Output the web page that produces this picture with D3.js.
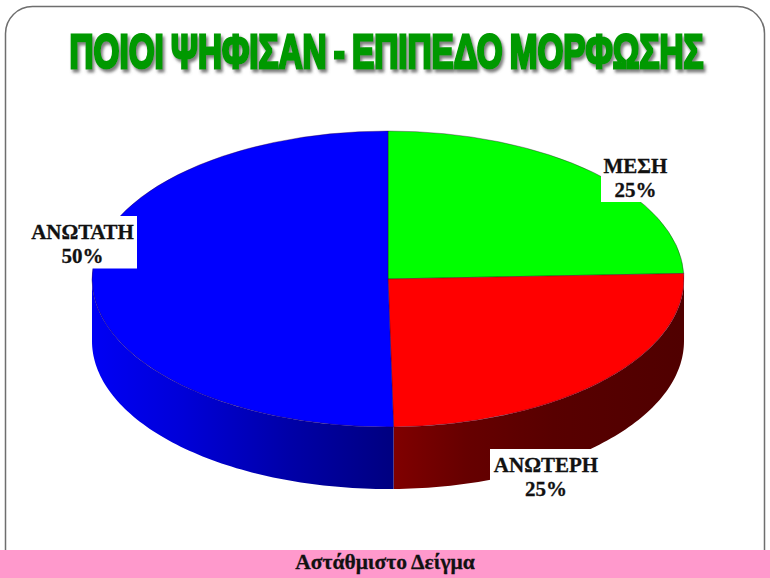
<!DOCTYPE html>
<html><head><meta charset="utf-8">
<style>html,body{margin:0;padding:0;background:#fff}svg{display:block}</style>
<script src="https://cdnjs.cloudflare.com/ajax/libs/d3/7.8.5/d3.min.js"></script>
</head><body><div id="c"></div>
<script>
const titleText = "ΠΟΙΟΙ ΨΗΦΙΣΑΝ - ΕΠΙΠΕΔΟ ΜΟΡΦΩΣΗΣ";
const footerText = "Αστάθμιστο Δείγμα";
const categories = ["ΜΕΣΗ", "ΑΝΩΤΕΡΗ", "ΑΝΩΤΑΤΗ"];
const values = [24.4, 25.3, 50.3];
const percentLabels = ["25%", "25%", "50%"];
const topColors = ["#00ff00", "#ff0000", "#0000ff"];

const W = 770, H = 578;
const cx = 388, cy = 279, rx = 296, ry = 148, depth = 62;

const svg = d3.select("#c").append("svg").attr("width", W).attr("height", H);
const defs = svg.append("defs");

const f = defs.append("filter").attr("id", "ts").attr("x", "-5%").attr("y", "-20%").attr("width", "110%").attr("height", "150%");
f.append("feDropShadow").attr("dx", 2).attr("dy", 3).attr("stdDeviation", 1.6).attr("flood-color", "#666").attr("flood-opacity", 0.85);

const gb = defs.append("linearGradient").attr("id", "sideBlue").attr("gradientUnits", "userSpaceOnUse")
  .attr("x1", cx - rx).attr("x2", cx + 6).attr("y1", 0).attr("y2", 0);
[[0, "#0000f5"], [0.3, "#0000d8"], [0.65, "#0000a8"], [1, "#000080"]].forEach(s => gb.append("stop").attr("offset", s[0]).attr("stop-color", s[1]));
const gr = defs.append("linearGradient").attr("id", "sideRed").attr("gradientUnits", "userSpaceOnUse")
  .attr("x1", cx + 6).attr("x2", cx + rx).attr("y1", 0).attr("y2", 0);
[[0, "#800000"], [0.25, "#660000"], [0.55, "#580000"], [1, "#500000"]].forEach(s => gr.append("stop").attr("offset", s[0]).attr("stop-color", s[1]));
const sideFill = ["#006000", "url(#sideRed)", "url(#sideBlue)"];

// frame
svg.append("rect").attr("x", 5.5).attr("y", 6.5).attr("width", 759).attr("height", 600).attr("rx", 27).attr("ry", 27)
  .attr("fill", "#fff").attr("stroke", "#6e6e6e").attr("stroke-width", 1.5);

// title: one text, narrowed to the reference width with a measured horizontal scale
const title = svg.append("text").attr("font-family", "'Liberation Sans Narrow','Liberation Sans',sans-serif")
  .attr("font-weight", 700).attr("font-size", 48).attr("text-anchor", "middle").attr("word-spacing", -3)
  .attr("fill", "#009900").attr("stroke", "#009900").attr("stroke-width", 3).attr("stroke-linejoin", "miter")
  .text(titleText);
const titleWidth = title.node().getComputedTextLength();
svg.append("g").attr("filter", "url(#ts)").append(() => title.node());
title.attr("transform", `translate(386.5,68) scale(${634 / titleWidth},1)`);

// pie through d3
const R = 100;
const arcs = d3.pie().sort(null).value(d => d)(values);
const arcGen = d3.arc().innerRadius(0).outerRadius(R);
const X = a => cx + rx * Math.sin(a), Y = a => cy - ry * Math.cos(a);

// side walls: only the front half (a between PI/2 and 3PI/2)
const side = svg.append("g");
arcs.forEach((d, i) => {
  const a0 = Math.max(d.startAngle, Math.PI / 2), a1 = Math.min(d.endAngle, 3 * Math.PI / 2);
  if (a1 <= a0) return;
  const n = 80, top = d3.range(n + 1).map(k => a0 + (a1 - a0) * k / n);
  const pts = top.map(a => [X(a), Y(a)]).concat(top.slice().reverse().map(a => [X(a), Y(a) + depth]));
  side.append("path").attr("d", d3.line()(pts) + "Z").attr("fill", sideFill[i]);
});

// top surface
const pie = svg.append("g").attr("transform", `translate(${cx},${cy}) scale(${rx / R},${ry / R})`);
pie.selectAll("path").data(arcs).join("path").attr("d", arcGen).attr("fill", (d, i) => topColors[i])
  .attr("stroke", "#300030").attr("stroke-opacity", 0.45).attr("stroke-width", 0.8).attr("vector-effect", "non-scaling-stroke");

// labels
const boxes = [[601, 150, 68, 52], [490, 449, 112, 52], [28, 216, 109, 52.5]];
const centers = [635.5, 546, 82.5];
const lg = svg.append("g");
categories.forEach((c, i) => {
  const b = boxes[i];
  lg.append("rect").attr("x", b[0]).attr("y", b[1]).attr("width", b[2]).attr("height", b[3]).attr("fill", "#fff");
  const t = lg.append("text").attr("text-anchor", "middle").attr("font-family", "'Liberation Serif',serif")
    .attr("font-weight", 700).attr("font-size", 21).attr("fill", "#111").attr("stroke", "#111").attr("stroke-width", 0.3);
  t.append("tspan").attr("x", centers[i]).attr("y", b[1] + 22.5).text(c);
  t.append("tspan").attr("x", centers[i]).attr("y", b[1] + 47).text(percentLabels[i]);
});

// footer
svg.append("rect").attr("x", 0).attr("y", 550).attr("width", W).attr("height", 28).attr("fill", "#ff99cc");
svg.append("text").attr("x", 385).attr("y", 568.5).attr("text-anchor", "middle").attr("font-family", "'Liberation Serif',serif")
  .attr("font-weight", 700).attr("font-size", 21.5).attr("fill", "#111").attr("stroke", "#111").attr("stroke-width", 0.3).text(footerText);
</script></body></html>
